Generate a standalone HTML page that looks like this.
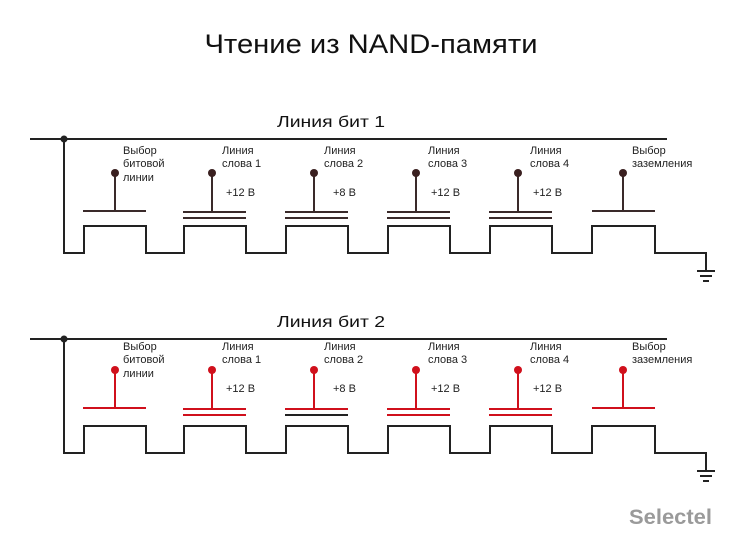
<!DOCTYPE html>
<html><head><meta charset="utf-8"><style>
html,body{margin:0;padding:0;background:#fff;}
svg{display:block;font-family:"Liberation Sans","Noto Sans CJK SC",sans-serif;}
</style></head><body>
<svg width="750" height="550" viewBox="0 0 750 550" xmlns="http://www.w3.org/2000/svg">
<text x="371" y="53" font-size="27" text-anchor="middle" fill="#111" textLength="333" lengthAdjust="spacingAndGlyphs" font-weight="300">Чтение из NAND-памяти</text>
<text x="331" y="127" font-size="16" text-anchor="middle" fill="#111" textLength="108" lengthAdjust="spacingAndGlyphs">Линия бит 1</text>
<text x="331" y="327" font-size="16" text-anchor="middle" fill="#111" textLength="108" lengthAdjust="spacingAndGlyphs">Линия бит 2</text>

<!-- Row 1 -->
<g fill="none" stroke="#222" stroke-width="2">
<line x1="30" y1="139" x2="667" y2="139"/>
<polyline points="64,139 64,253 84,253 84,226 146,226 146,253 184,253 184,226 246,226 246,253 286,253 286,226 348,226 348,253 388,253 388,226 450,226 450,253 490,253 490,226 552,226 552,253 592,253 592,226 655,226 655,253 706,253 706,271"/>
<line x1="697" y1="271" x2="715" y2="271"/><line x1="700" y1="276" x2="712" y2="276"/><line x1="703" y1="281" x2="709" y2="281"/>
</g>
<circle cx="64" cy="139" r="3.5" fill="#222"/>
<g stroke="#3a2a2a" stroke-width="2">
<line x1="83" y1="211" x2="146" y2="211"/><line x1="115" y1="173" x2="115" y2="211"/>
<line x1="183" y1="212" x2="246" y2="212"/><line x1="183" y1="218" x2="246" y2="218"/><line x1="212" y1="173" x2="212" y2="212"/>
<line x1="285" y1="212" x2="348" y2="212"/><line x1="285" y1="218" x2="348" y2="218"/><line x1="314" y1="173" x2="314" y2="212"/>
<line x1="387" y1="212" x2="450" y2="212"/><line x1="387" y1="218" x2="450" y2="218"/><line x1="416" y1="173" x2="416" y2="212"/>
<line x1="489" y1="212" x2="552" y2="212"/><line x1="489" y1="218" x2="552" y2="218"/><line x1="518" y1="173" x2="518" y2="212"/>
<line x1="592" y1="211" x2="655" y2="211"/><line x1="623" y1="173" x2="623" y2="211"/>
</g>
<g fill="#3a2020"><circle cx="115" cy="173" r="4"/><circle cx="212" cy="173" r="4"/><circle cx="314" cy="173" r="4"/><circle cx="416" cy="173" r="4"/><circle cx="518" cy="173" r="4"/><circle cx="623" cy="173" r="4"/></g>
<g font-size="11" fill="#222">
<text x="123" y="154">Выбор</text><text x="123" y="167">битовой</text><text x="123" y="181">линии</text>
<text x="222" y="154">Линия</text><text x="222" y="167">слова 1</text><text x="226" y="196">+12 В</text>
<text x="324" y="154">Линия</text><text x="324" y="167">слова 2</text><text x="333" y="196">+8 В</text>
<text x="428" y="154">Линия</text><text x="428" y="167">слова 3</text><text x="431" y="196">+12 В</text>
<text x="530" y="154">Линия</text><text x="530" y="167">слова 4</text><text x="533" y="196">+12 В</text>
<text x="632" y="154">Выбор</text><text x="632" y="167">заземления</text>
</g>

<!-- Row 2 -->
<g transform="translate(0,200)">
<g fill="none" stroke="#222" stroke-width="2">
<line x1="30" y1="139" x2="667" y2="139"/>
<polyline points="64,139 64,253 84,253 84,226 146,226 146,253 184,253 184,226 246,226 246,253 286,253 286,226 348,226 348,253 388,253 388,226 450,226 450,253 490,253 490,226 552,226 552,253 592,253 592,226 655,226 655,253 706,253 706,271"/>
<line x1="697" y1="271" x2="715" y2="271"/><line x1="700" y1="276" x2="712" y2="276"/><line x1="703" y1="281" x2="709" y2="281"/>
</g>
<circle cx="64" cy="139" r="3.5" fill="#222"/>
<g stroke="#d0101c" stroke-width="2">
<line x1="83" y1="208" x2="146" y2="208"/><line x1="115" y1="170" x2="115" y2="208"/>
<line x1="183" y1="209" x2="246" y2="209"/><line x1="183" y1="215" x2="246" y2="215"/><line x1="212" y1="170" x2="212" y2="209"/>
<line x1="285" y1="209" x2="348" y2="209"/><line x1="285" y1="215" x2="348" y2="215" stroke="#222"/><line x1="314" y1="170" x2="314" y2="209"/>
<line x1="387" y1="209" x2="450" y2="209"/><line x1="387" y1="215" x2="450" y2="215"/><line x1="416" y1="170" x2="416" y2="209"/>
<line x1="489" y1="209" x2="552" y2="209"/><line x1="489" y1="215" x2="552" y2="215"/><line x1="518" y1="170" x2="518" y2="209"/>
<line x1="592" y1="208" x2="655" y2="208"/><line x1="623" y1="170" x2="623" y2="208"/>
</g>
<g fill="#d0101c"><circle cx="115" cy="170" r="4"/><circle cx="212" cy="170" r="4"/><circle cx="314" cy="170" r="4"/><circle cx="416" cy="170" r="4"/><circle cx="518" cy="170" r="4"/><circle cx="623" cy="170" r="4"/></g>
<g font-size="11" fill="#222">
<text x="123" y="150">Выбор</text><text x="123" y="163">битовой</text><text x="123" y="177">линии</text>
<text x="222" y="150">Линия</text><text x="222" y="163">слова 1</text><text x="226" y="192">+12 В</text>
<text x="324" y="150">Линия</text><text x="324" y="163">слова 2</text><text x="333" y="192">+8 В</text>
<text x="428" y="150">Линия</text><text x="428" y="163">слова 3</text><text x="431" y="192">+12 В</text>
<text x="530" y="150">Линия</text><text x="530" y="163">слова 4</text><text x="533" y="192">+12 В</text>
<text x="632" y="150">Выбор</text><text x="632" y="163">заземления</text>
</g>
</g>

<text x="629" y="524" font-size="21" font-weight="bold" fill="#9a9a9a" textLength="83" lengthAdjust="spacingAndGlyphs">Selectel</text>
</svg>
</body></html>
